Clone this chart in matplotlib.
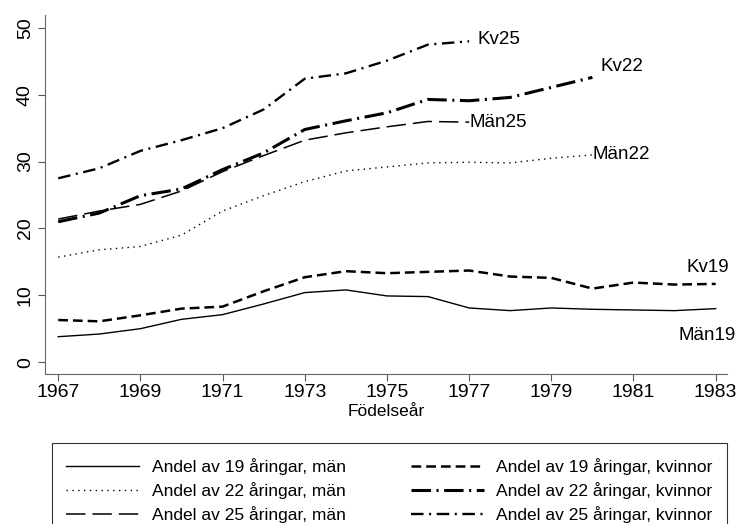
import matplotlib
matplotlib.use("Agg")
import matplotlib.pyplot as plt

plt.rcParams['font.family'] = ['Liberation Sans', 'DejaVu Sans']
plt.rcParams['lines.scale_dashes'] = False

# birth years
years = list(range(1967, 1984))

# share (%) by age and sex
man19 = [3.8, 4.2, 5.0, 6.4, 7.1, 8.7, 10.4, 10.8, 9.9, 9.8, 8.1, 7.7, 8.1, 7.9, 7.8, 7.7, 8.0]
kv19 = [6.3, 6.1, 7.0, 8.0, 8.3, 10.6, 12.7, 13.6, 13.3, 13.5, 13.7, 12.8, 12.6, 11.0, 11.9, 11.6, 11.7]
man22 = [15.7, 16.8, 17.3, 19.0, 22.6, 24.9, 27.0, 28.6, 29.2, 29.8, 29.9, 29.8, 30.5, 31.0]
kv22 = [21.0, 22.3, 24.9, 25.9, 28.8, 31.3, 34.8, 36.1, 37.3, 39.3, 39.1, 39.6, 41.1, 42.6]
man25 = [21.4, 22.6, 23.6, 25.6, 28.5, 30.9, 33.2, 34.3, 35.2, 36.0, 35.9]
kv25 = [27.5, 29.0, 31.6, 33.2, 35.0, 37.8, 42.4, 43.2, 45.1, 47.5, 48.0]

legend_labels = ["Andel av 19 åringar, män", "Andel av 19 åringar, kvinnor",
                 "Andel av 22 åringar, män", "Andel av 22 åringar, kvinnor",
                 "Andel av 25 åringar, män", "Andel av 25 åringar, kvinnor"]
xticks = [1967, 1969, 1971, 1973, 1975, 1977, 1979, 1981, 1983]
yticks = [0, 10, 20, 30, 40, 50]

fig = plt.figure(figsize=(7.39, 5.24), dpi=100)
ax = fig.add_axes([0.061, 0.286, 0.923, 0.685])

h_m19, = ax.plot(years, man19, color='black', lw=1.0, ls='-')
h_k19, = ax.plot(years, kv19, color='black', lw=1.8, ls=(0, (7, 3.6)))
h_m22, = ax.plot(years[:len(man22)], man22, color='black', lw=1.0, ls=(0, (1, 3.2)))
h_k22, = ax.plot(years[:len(kv22)], kv22, color='black', lw=2.2, ls=(0, (14, 4, 1.5, 4)))
h_m25, = ax.plot(years[:len(man25)], man25, color='black', lw=1.1, ls=(0, (14, 5)))
h_k25, = ax.plot(years[:len(kv25)], kv25, color='black', lw=1.7, ls=(0, (9, 4, 1.5, 4)))

# end-of-line labels
lab_size = 13.5
ax.text(1977.2, 48.2, "Kv25", fontsize=lab_size, va='center', ha='left')
ax.text(1980.2, 44.2, "Kv22", fontsize=lab_size, va='center', ha='left')
ax.text(1977.0, 35.8, "Män25", fontsize=lab_size, va='center', ha='left')
ax.text(1980.0, 31.0, "Män22", fontsize=lab_size, va='center', ha='left')
ax.text(1982.3, 14.1, "Kv19", fontsize=lab_size, va='center', ha='left')
ax.text(1982.1, 4.0, "Män19", fontsize=lab_size, va='center', ha='left')

ax.set_xlim(1966.68, 1983.28)
ax.set_ylim(-1.8, 51.9)
ax.set_xticks(xticks)
ax.set_yticks(yticks)
ax.tick_params(axis='x', labelsize=14, length=5, width=0.8, color='#555555', pad=2)
ax.tick_params(axis='y', labelsize=14, length=5, width=0.8, color='#555555', pad=3,
               labelrotation=90)
for lbl in ax.get_yticklabels():
    lbl.set_va('center')
ax.spines['top'].set_visible(False)
ax.spines['right'].set_visible(False)
ax.spines['left'].set_color('#666666')
ax.spines['bottom'].set_color('#666666')
ax.set_xlabel("Födelseår", fontsize=12.5, labelpad=2)

handles = [h_m19, h_k19, h_m22, h_k22, h_m25, h_k25]
# order for two-column legend (column-major)
order = [0, 2, 4, 1, 3, 5]
# box runs off the bottom edge like in the original
leg = fig.legend([handles[i] for i in order], [legend_labels[i] for i in order],
                 ncol=2, loc='lower left', bbox_to_anchor=(0.07, -0.027, 0.914, 0.16),
                 mode='expand', fontsize=12.5, frameon=True, fancybox=False,
                 handlelength=4.2, handletextpad=0.7, labelspacing=0.42,
                 borderaxespad=0, borderpad=0.85, columnspacing=2.0)
leg.get_frame().set_edgecolor('black')
leg.get_frame().set_linewidth(0.8)

fig.savefig("out.png", dpi=100)
